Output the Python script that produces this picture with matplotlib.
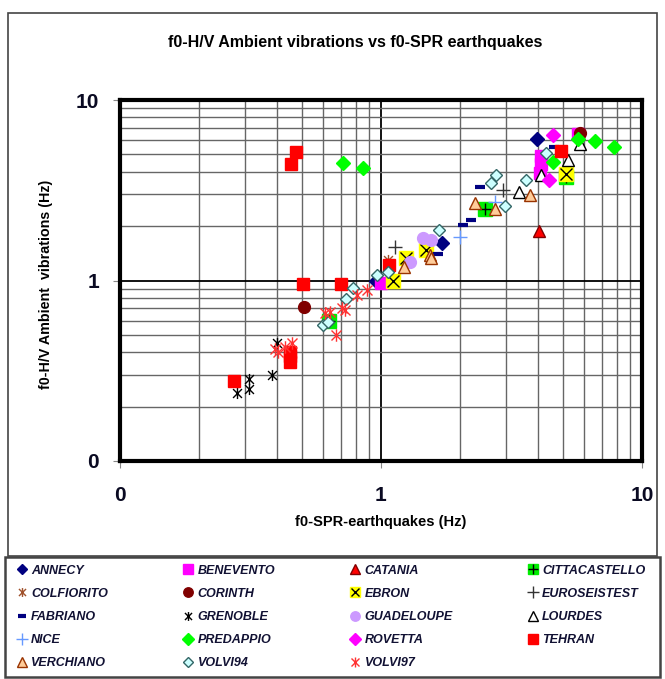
import matplotlib
matplotlib.use("Agg")
import matplotlib.pyplot as plt
from matplotlib.path import Path
from matplotlib.patches import Rectangle
from matplotlib.ticker import FixedLocator, NullFormatter

plt.rcParams['font.family'] = ['Liberation Sans', 'DejaVu Sans']

# (f0 SPR earthquakes, f0 H/V ambient vibrations) per site, Hz
annecy = [(0.96, 1.0), (1.72, 1.61), (3.95, 6.06)]
benevento = [(1.0, 0.97), (4.05, 3.95), (4.1, 4.4), (4.1, 4.9), (5.7, 6.48)]
catania = [(4.04, 1.89)]
cittacastello = [(0.63, 0.60), (2.5, 2.48), (5.1, 3.76)]
colfiorito = [(1.06, 1.30)]
corinth = [(0.505, 0.716), (5.77, 6.55)]
ebron = [(1.11, 1.0), (1.25, 1.34), (1.49, 1.48), (5.1, 3.87)]
euroseistest = [(1.13, 1.54), (2.94, 3.17)]
fabriano = [(1.66, 1.41), (2.06, 2.02), (2.22, 2.16), (2.39, 3.31), (4.6, 5.5)]
grenoble = [(0.281, 0.237), (0.313, 0.249), (0.313, 0.284), (0.381, 0.30), (0.401, 0.452)]
guadeloupe = [(1.29, 1.27), (1.45, 1.71), (1.56, 1.68)]
lourdes = [(3.39, 3.1), (4.12, 3.84), (5.2, 4.66), (5.77, 5.7)]
nice = [(2.0, 1.75), (2.73, 2.73)]
predappio = [(0.713, 4.5), (0.85, 4.18), (4.56, 4.55), (5.7, 6.06), (6.6, 5.93), (7.8, 5.52)]
rovetta = [(4.4, 3.6), (4.56, 6.39)]
tehran = [(0.273, 0.279), (0.448, 0.355), (0.448, 0.38), (0.448, 0.404), (0.452, 4.42),
          (0.472, 5.15), (0.501, 0.957), (0.70, 0.957), (1.077, 1.22), (4.9, 5.2)]
verchiano = [(1.23, 1.19), (1.54, 1.38), (1.56, 1.33), (2.3, 2.68), (2.73, 2.48), (3.72, 2.97)]
volvi94 = [(0.60, 0.567), (0.627, 0.59), (0.733, 0.787), (0.78, 0.905), (0.967, 1.07),
           (1.06, 1.12), (1.67, 1.90), (2.65, 3.49), (2.76, 3.84), (2.98, 2.59),
           (3.6, 3.6), (4.28, 5.1)]
volvi97 = [(0.392, 0.42), (0.404, 0.403), (0.43, 0.43), (0.455, 0.45), (0.61, 0.66),
           (0.636, 0.672), (0.675, 0.50), (0.71, 0.70), (0.73, 0.686), (0.81, 0.83),
           (0.88, 0.886)]

tick_values = [0.1, 1, 10]
tick_labels = ['0', '1', '10']

# excel-like star: an x with a vertical bar
star = Path([(0, -1), (0, 1), (-0.8, -0.8), (0.8, 0.8), (-0.8, 0.8), (0.8, -0.8)],
            [Path.MOVETO, Path.LINETO, Path.MOVETO, Path.LINETO, Path.MOVETO, Path.LINETO])

# name, data, list of marker styles drawn on top of each other
series = [
    ('ANNECY', annecy, [dict(marker='D', ms=7, mfc='#000080', mec='#000080')]),
    ('BENEVENTO', benevento, [dict(marker='s', ms=8.5, mfc='#ff00ff', mec='#ff00ff')]),
    ('CATANIA', catania, [dict(marker='^', ms=9, mfc='#ff0000', mec='#800000')]),
    ('CITTACASTELLO', cittacastello, [dict(marker='s', ms=9.5, mfc='#00ee00', mec='#00ee00'),
                                      dict(marker='+', ms=9, mec='black', mew=1)]),
    ('COLFIORITO', colfiorito, [dict(marker=star, ms=8, mec='#a0522d', mew=1)]),
    ('CORINTH', corinth, [dict(marker='o', ms=8.5, mfc='#800000', mec='#800000')]),
    ('EBRON', ebron, [dict(marker='s', ms=9.5, mfc='#ffff00', mec='#ffff00'),
                      dict(marker='x', ms=8, mec='black', mew=1)]),
    ('EUROSEISTEST', euroseistest, [dict(marker='+', ms=10, mec='#333333', mew=1)]),
    ('FABRIANO', fabriano, [dict(marker='_', ms=7, mec='#000080', mew=3)]),
    ('GRENOBLE', grenoble, [dict(marker=star, ms=8, mec='black', mew=1)]),
    ('GUADELOUPE', guadeloupe, [dict(marker='o', ms=8.5, mfc='#cc99ff', mec='#cc99ff')]),
    ('LOURDES', lourdes, [dict(marker='^', ms=9, mfc='white', mec='black', mew=1)]),
    ('NICE', nice, [dict(marker='+', ms=10, mec='#6699ff', mew=1)]),
    ('PREDAPPIO', predappio, [dict(marker='D', ms=7.5, mfc='#00ff00', mec='#00ff00')]),
    ('ROVETTA', rovetta, [dict(marker='D', ms=7.5, mfc='#ff00ff', mec='#ff00ff')]),
    ('TEHRAN', tehran, [dict(marker='s', ms=8.5, mfc='#ff0000', mec='#ff0000')]),
    ('VERCHIANO', verchiano, [dict(marker='^', ms=9, mfc='#ffcc99', mec='#993300', mew=1)]),
    ('VOLVI94', volvi94, [dict(marker='D', ms=6, mfc='#ccffff', mec='#336666', mew=1)]),
    ('VOLVI97', volvi97, [dict(marker=star, ms=9, mec='#ff3333', mew=1)]),
]

fig = plt.figure(figsize=(6.65, 6.79), dpi=100)
ax = fig.add_axes([120 / 665, 1 - 461 / 679, 522 / 665, 361 / 679])
ax.set_xscale('log')
ax.set_yscale('log')
ax.set_xlim(0.1, 10)
ax.set_ylim(0.1, 10)

ax.grid(which='minor', color='#666666', lw=1.0)
ax.grid(which='major', color='black', lw=1.3)
ax.set_axisbelow(True)

handles = []
labels = []
for name, pts, styles in series:
    xs = [p[0] for p in pts]
    ys = [p[1] for p in pts]
    parts = []
    for st in styles:
        ln, = ax.plot(xs, ys, linestyle='none', **st)
        parts.append(ln)
    handles.append(tuple(parts))
    labels.append(name)

for sp in ax.spines.values():
    sp.set_linewidth(3)
    sp.set_color('black')

for axis in (ax.xaxis, ax.yaxis):
    axis.set_major_locator(FixedLocator(tick_values))
    axis.set_minor_formatter(NullFormatter())
ax.set_xticklabels(tick_labels)
ax.set_yticklabels(tick_labels)
ax.tick_params(which='minor', length=0)
ax.tick_params(which='major', length=5, color='#888888', labelsize=15,
               labelcolor='#0a0a22')
ax.tick_params(axis='x', pad=13)
ax.tick_params(axis='y', pad=10)
for lb in ax.get_xticklabels() + ax.get_yticklabels():
    lb.set_fontweight('bold')

fig.text(355 / 665, 1 - 42 / 679, 'f0-H/V Ambient vibrations vs f0-SPR earthquakes',
         ha='center', va='center', fontsize=11.5, fontweight='bold')
fig.text(381 / 665, 1 - 522 / 679, 'f0-SPR-earthquakes (Hz)',
         ha='center', va='center', fontsize=10.5, fontweight='bold')
fig.text(46 / 665, 1 - 284 / 679, 'f0-H/V Ambient  vibrations (Hz)', rotation=90,
         ha='center', va='center', fontsize=10.3, fontweight='bold')

# chart frame and legend frame
fig.patches.append(Rectangle((8 / 665, 1 - 556 / 679), 649 / 665, 543 / 679,
                             transform=fig.transFigure, fill=False,
                             edgecolor='#444444', lw=1.2))
fig.patches.append(Rectangle((5 / 665, 2 / 679), 655 / 665, 120 / 679,
                             transform=fig.transFigure, fill=False,
                             edgecolor='#444444', lw=1.8))

# legend is filled column-wise, so reorder for row-wise reading
ncol = 4
nrow = 5
order = []
for c in range(ncol):
    for r in range(nrow):
        i = r * ncol + c
        if i < len(handles):
            order.append(i)
leg = fig.legend([handles[i] for i in order], [labels[i] for i in order],
                 ncol=ncol, loc='upper left',
                 bbox_to_anchor=(8 / 665, 2 / 679, 645 / 665, 120 / 679),
                 mode='expand', frameon=False,
                 prop=dict(weight='bold', style='italic', size=9),
                 handlelength=1.0, handletextpad=0.25, labelspacing=0.9,
                 borderpad=0.6, borderaxespad=0, markerscale=0.8)
for t in leg.get_texts():
    t.set_color('#111133')

fig.savefig('out.png', dpi=100)
